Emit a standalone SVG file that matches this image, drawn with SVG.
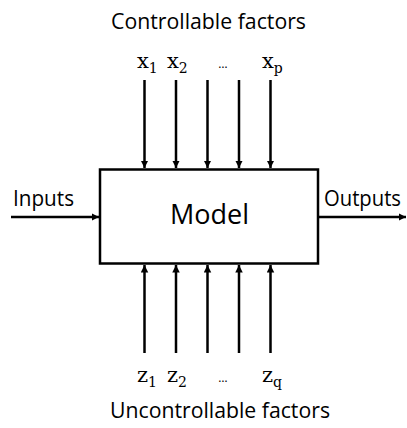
<svg xmlns="http://www.w3.org/2000/svg" width="407" height="428" viewBox="0 0 407 428">
  <style>
    .lbl { font-family: "Open Sans", "Liberation Sans", sans-serif; font-size: 22px; fill: #000; }
    .big { font-size: 27px; }
    .edge { font-size: 21px; }
    .var { font-family: "DejaVu Serif", "Liberation Serif", serif; font-size: 21px; fill: #000; }
    .sub { font-size: 14px; }
    .dots { font-family: "Open Sans", "Liberation Sans", sans-serif; font-size: 12px; fill: #000; text-anchor: middle; }
    .wire { stroke: #000; stroke-width: 2.5; fill: none; marker-end: url(#head); }
  </style>
  <defs>
    <marker id="head" viewBox="0 0 10 10" refX="10" refY="5" markerWidth="3" markerHeight="3.2" orient="auto" markerUnits="strokeWidth">
      <path d="M0,0 L10,5 L0,10 Z" fill="#000"/>
    </marker>
  </defs>

  <rect width="407" height="428" fill="#fff"/>

  <!-- connectors -->
  <g id="connectors">
    <line class="wire" x1="144.5" y1="80" x2="144.5" y2="168"/>
    <line class="wire" x1="176" y1="80" x2="176" y2="168"/>
    <line class="wire" x1="207.5" y1="80" x2="207.5" y2="168"/>
    <line class="wire" x1="239" y1="80" x2="239" y2="168"/>
    <line class="wire" x1="270.5" y1="80" x2="270.5" y2="168"/>

    <line class="wire" x1="144.5" y1="353" x2="144.5" y2="265"/>
    <line class="wire" x1="176" y1="353" x2="176" y2="265"/>
    <line class="wire" x1="207.5" y1="353" x2="207.5" y2="265"/>
    <line class="wire" x1="239" y1="353" x2="239" y2="265"/>
    <line class="wire" x1="270.5" y1="353" x2="270.5" y2="265"/>

    <line class="wire" x1="11" y1="217" x2="99" y2="217"/>
    <line class="wire" x1="318" y1="217" x2="406" y2="217"/>
  </g>

  <!-- model block -->
  <g id="model">
    <rect x="100" y="169.5" width="218" height="94" fill="#fff" stroke="#000" stroke-width="2.5"/>
    <text class="lbl big" x="170" y="224" textLength="79" lengthAdjust="spacingAndGlyphs">Model</text>
  </g>

  <g id="inputs">
    <text class="lbl" x="13" y="206" textLength="61" lengthAdjust="spacingAndGlyphs">Inputs</text>
  </g>
  <g id="outputs">
    <text class="lbl edge" x="324" y="206" textLength="77" lengthAdjust="spacingAndGlyphs">Outputs</text>
  </g>

  <g id="controllable">
    <text class="lbl" x="111" y="28.5" textLength="195" lengthAdjust="spacingAndGlyphs">Controllable factors</text>
    <text class="var" x="137" y="68">x<tspan class="sub" dy="5">1</tspan></text>
    <text class="var" x="167" y="68">x<tspan class="sub" dy="5">2</tspan></text>
    <text class="dots" x="223" y="68">…</text>
    <text class="var" x="262" y="68">x<tspan class="sub" dy="5">p</tspan></text>
  </g>

  <g id="uncontrollable">
    <text class="var" x="137" y="382">z<tspan class="sub" dy="5">1</tspan></text>
    <text class="var" x="167" y="382">z<tspan class="sub" dy="5">2</tspan></text>
    <text class="dots" x="223" y="382">…</text>
    <text class="var" x="262" y="382">z<tspan class="sub" dy="5">q</tspan></text>
    <text class="lbl" x="110" y="418" textLength="220" lengthAdjust="spacingAndGlyphs">Uncontrollable factors</text>
  </g>
</svg>
